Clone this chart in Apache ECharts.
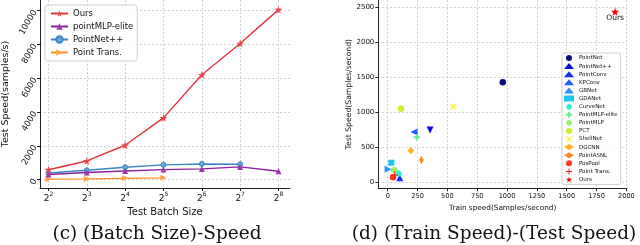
<!DOCTYPE html>
<html>
<head>
<meta charset="utf-8">
<script src="https://cdn.jsdelivr.net/npm/echarts@6/dist/echarts.min.js"></script>
<style>html,body{margin:0;padding:0;background:#fff}#c{width:640px;height:245px}</style>
</head>
<body>
<div id="c"></div>
<script>
// ---- Left chart data: test batch size (2^n) vs test speed ----
var batchExp = [2, 3, 4, 5, 6, 7, 8];
var oursSpeed = [580, 1100, 2030, 3650, 6200, 8050, 10060];
var mlpEliteSpeed = [300, 415, 510, 590, 630, 750, 490];
var pointNet2Speed = [390, 550, 730, 870, 925, 910];
var pointTransSpeed = [25, 40, 70, 100];
var leftYTicks = [0, 2000, 4000, 6000, 8000, 10000];

// ---- Right chart data: train speed vs test speed ----
var methods = ['PointNet', 'PointNet++', 'PointConv', 'KPConv', 'GBNet', 'GDANet', 'CurveNet',
  'PointMLP-elite', 'PointMLP', 'PCT', 'ShellNet', 'DGCNN', 'PointASNL', 'PosPool', 'Point Trans.', 'Ours'];
var trainSpeed = [964, 355, 100, 220, 3, 30, 92, 243, 53, 111, 550, 193, 282, 44, 59, 1905];
var testSpeed = [1427, 744, 62, 716, 181, 276, 124, 640, 172, 1049, 1078, 447, 315, 67, 100, 2437];
var rightXTicks = [0, 250, 500, 750, 1000, 1250, 1500, 1750, 2000];
var rightYTicks = [0, 500, 1000, 1500, 2000, 2500];

var STAR = 'path://M50,0 L61,35 L98,35 L68,57 L79,91 L50,70 L21,91 L32,57 L2,35 L39,35 Z';
var PENT = 'path://M50,0 L100,38 L81,100 L19,100 L0,38 Z';
var PLUSF = 'path://M34,0 H66 V34 H100 V66 H66 V100 H34 V66 H0 V34 H34 Z';
var PLUST = 'path://M42,0 H58 V42 H100 V58 H58 V100 H42 V58 H0 V42 H42 Z';
var XF = 'path://M16,0 L50,34 L84,0 L100,16 L66,50 L100,84 L84,100 L50,66 L16,100 L0,84 L34,50 L0,16 Z';
var HEX = 'path://M50,0 L93,25 L93,75 L50,100 L7,75 L7,25 Z';

var styles = [
  {sym: 'circle', rot: 0, size: 6.5, color: '#0a0a80'},
  {sym: 'triangle', rot: 180, size: 7, color: '#0d0de0'},
  {sym: 'triangle', rot: 0, size: 7, color: '#1428ff'},
  {sym: 'triangle', rot: 90, size: 7, color: '#1f5cff'},
  {sym: 'triangle', rot: -90, size: 7, color: '#2b90ff'},
  {sym: 'rect', rot: 0, size: 6, color: '#1ec4f2'},
  {sym: PENT, rot: 0, size: 6.5, color: '#2ef0d2'},
  {sym: PLUSF, rot: 0, size: 6.5, color: '#5ef08c'},
  {sym: HEX, rot: 0, size: 6.5, color: '#94f060'},
  {sym: 'circle', rot: 0, size: 6.5, color: '#c8f02a'},
  {sym: XF, rot: 0, size: 6.5, color: '#fff040'},
  {sym: 'diamond', rot: 0, size: 7, color: '#ffb020'},
  {sym: 'diamond', rot: 0, size: [5, 8], color: '#ff8a24'},
  {sym: 'circle', rot: 0, size: 6.5, color: '#ff3a1e'},
  {sym: PLUST, rot: 0, size: 7, color: '#f01818'},
  {sym: STAR, rot: 0, size: 8.5, color: '#ff0000'}
];

var FONT = 'DejaVu Sans';
var PFX = 'r_';
var gridLine = {show: true, lineStyle: {color: '#c4c4c4', width: 0.8, type: [2, 2]}};
var axisLineS = {show: true, onZero: false, lineStyle: {color: '#222', width: 1}};
function plain(v) { return String(v); }
function pairs(xs, ys) { return ys.map(function (v, i) { return [xs[i], v]; }); }

var series = [
  {name: 'Ours', type: 'line', xAxisIndex: 0, yAxisIndex: 0, data: pairs(batchExp, oursSpeed),
    symbol: STAR, symbolSize: 8, z: 5, lineStyle: {color: '#e3343a', width: 1.4},
    itemStyle: {color: '#e8474c'}},
  {name: 'pointMLP-elite', type: 'line', xAxisIndex: 0, yAxisIndex: 0, data: pairs(batchExp, mlpEliteSpeed),
    symbol: 'triangle', symbolSize: 6, z: 4, lineStyle: {color: '#8e1f9e', width: 1.4},
    itemStyle: {color: '#9b3aaa'}},
  {name: 'PointNet++', type: 'line', xAxisIndex: 0, yAxisIndex: 0, data: pairs(batchExp, pointNet2Speed),
    symbol: 'circle', symbolSize: 5, z: 3, lineStyle: {color: '#3a86c6', width: 1.4},
    itemStyle: {color: '#6aa6d8', borderColor: '#3a86c6', borderWidth: 1}},
  {name: 'Point Trans.', type: 'line', xAxisIndex: 0, yAxisIndex: 0, data: pairs(batchExp, pointTransSpeed),
    symbol: 'triangle', symbolRotate: -90, symbolSize: 6, z: 2, lineStyle: {color: '#ff9028', width: 1.4},
    itemStyle: {color: '#ffa040'}}
];

methods.forEach(function (m, i) {
  var st = styles[i];
  var s = {name: PFX + m, type: 'scatter', xAxisIndex: 1, yAxisIndex: 1,
    data: [[trainSpeed[i], testSpeed[i]]], symbol: st.sym, symbolRotate: st.rot,
    symbolSize: st.size, itemStyle: {color: st.color, opacity: 1}, z: 3};
  if (m === 'Ours') {
    s.label = {show: true, formatter: m, position: 'bottom', distance: -2,
      fontFamily: FONT, fontSize: 7.5, color: '#111'};
  }
  series.push(s);
});

var option = {
  animation: false,
  backgroundColor: '#fff',
  textStyle: {fontFamily: FONT},
  grid: [
    {left: 40, top: 0, width: 250, height: 188},
    {left: 378.3, top: 0, width: 248.7, height: 188.3}
  ],
  xAxis: [
    {type: 'value', gridIndex: 0, min: 1.78, max: 8.3,
      axisLine: axisLineS, splitLine: gridLine,
      axisTick: {show: true, length: 3, customValues: batchExp, lineStyle: {color: '#222'}},
      axisLabel: {customValues: batchExp, margin: 3, color: '#111',
        formatter: function (v) { return '{b|2}{s|' + v + '}'; },
        rich: {b: {fontSize: 9, fontFamily: FONT, color: '#111', lineHeight: 12, verticalAlign: 'bottom'},
               s: {fontSize: 6, fontFamily: FONT, color: '#111', lineHeight: 12, verticalAlign: 'top'}}},
      name: 'Test Batch Size', nameLocation: 'middle', nameGap: 15,
      nameTextStyle: {fontFamily: FONT, fontSize: 10, color: '#111'}},
    {type: 'value', gridIndex: 1, min: -79, max: 2005,
      axisLine: axisLineS, splitLine: gridLine,
      axisTick: {show: true, length: 3, customValues: rightXTicks, lineStyle: {color: '#222'}},
      axisLabel: {customValues: rightXTicks, formatter: plain, margin: 4, fontSize: 6.6, color: '#111', fontFamily: FONT},
      name: 'Train speed(Samples/second)', nameLocation: 'middle', nameGap: 13,
      nameTextStyle: {fontFamily: FONT, fontSize: 7.3, color: '#111'}}
  ],
  yAxis: [
    {type: 'value', gridIndex: 0, min: -500, max: 10630,
      axisLine: axisLineS, splitLine: gridLine,
      axisTick: {show: true, length: 3, customValues: leftYTicks, lineStyle: {color: '#222'}},
      axisLabel: {customValues: leftYTicks, formatter: plain, rotate: 60, margin: 5, fontSize: 8.5, color: '#111', fontFamily: FONT},
      name: 'Test Speed(samples/s)', nameLocation: 'middle', nameGap: 29,
      nameTextStyle: {fontFamily: FONT, fontSize: 9.5, color: '#111'}},
    {type: 'value', gridIndex: 1, min: -90, max: 2604,
      axisLine: axisLineS, splitLine: gridLine,
      axisTick: {show: true, length: 3, customValues: rightYTicks, lineStyle: {color: '#222'}},
      axisLabel: {customValues: rightYTicks, formatter: plain, margin: 4, fontSize: 7, color: '#111', fontFamily: FONT},
      name: 'Test Speed(Samples/second)', nameLocation: 'middle', nameGap: 24,
      nameTextStyle: {fontFamily: FONT, fontSize: 7.7, color: '#111'}}
  ],
  legend: [
    {data: ['Ours', 'pointMLP-elite', 'PointNet++', 'Point Trans.'], orient: 'vertical',
      left: 45, top: 5, padding: [4, 4, 4, 5], itemWidth: 17, itemHeight: 8, itemGap: 4,
      backgroundColor: 'rgba(255,255,255,0.85)', borderColor: '#d0d0d0', borderWidth: 1, borderRadius: 3,
      textStyle: {fontFamily: FONT, fontSize: 8.5, color: '#111', lineHeight: 8}},
    {data: methods.map(function (m) { return PFX + m; }), orient: 'vertical', left: 562, top: 53, padding: [2, 3, 2, 2],
      itemWidth: 10, itemHeight: 6, itemGap: 2.1,
      formatter: function (n) { return n.slice(PFX.length); },
      backgroundColor: 'rgba(255,255,255,0.9)', borderColor: '#d0d0d0', borderWidth: 1, borderRadius: 2,
      textStyle: {fontFamily: FONT, fontSize: 5.5, color: '#111', lineHeight: 6}}
  ],
  graphic: [
    {type: 'text', x: 157, y: 234, style: {text: '(c) (Batch Size)-Speed', fill: '#111',
      font: '18.5px "DejaVu Serif"', textAlign: 'center', textVerticalAlign: 'middle'}},
    {type: 'text', x: 494, y: 234, style: {text: '(d) (Train Speed)-(Test Speed)', fill: '#111',
      font: '18.5px "DejaVu Serif"', textAlign: 'center', textVerticalAlign: 'middle'}}
  ],
  series: series
};

var chart = echarts.init(document.getElementById('c'), null, {renderer: 'canvas'});
chart.setOption(option);
</script>
</body>
</html>
